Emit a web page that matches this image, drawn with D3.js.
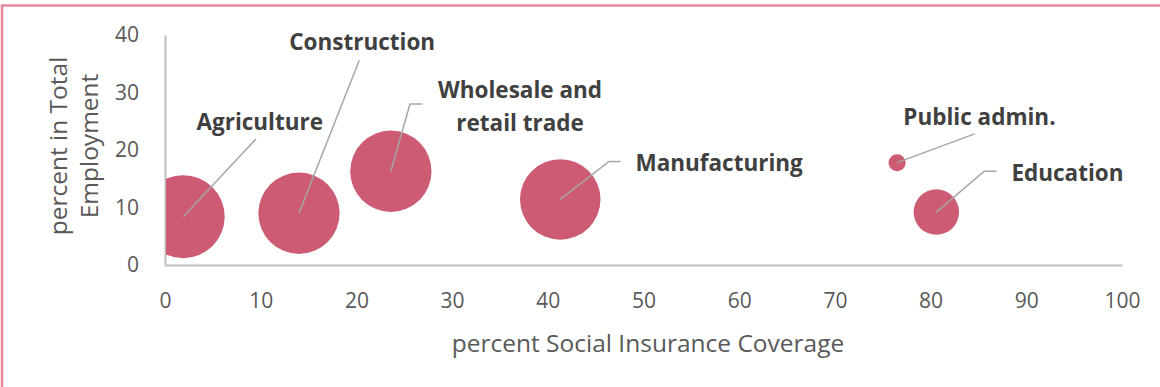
<!DOCTYPE html>
<html>
<head>
<meta charset="utf-8">
<script src="https://cdn.jsdelivr.net/npm/d3@7"></script>
<style>
  body { margin: 0; background: #fff; }
  svg { display: block; font-family: "Open Sans", "Noto Sans", sans-serif; }
</style>
</head>
<body>
<svg id="chart" width="1160" height="387"></svg>
<script>
// sector data
const sectors = ["Agriculture", "Construction", "Wholesale and retail trade", "Manufacturing", "Public admin.", "Education"];
const coverage = [1.9, 14.0, 23.6, 41.3, 76.5, 80.6];     // x, percent social insurance coverage
const employment = [8.4, 9.0, 16.3, 11.4, 17.8, 9.2];     // y, percent in total employment
const bubbleSize = [100, 96, 96, 94, 4.2, 30];            // relative bubble area
const xTicks = [0, 10, 20, 30, 40, 50, 60, 70, 80, 90, 100];
const yTicks = [0, 10, 20, 30, 40];

// label placement: label centre (data units) and where the leader line ends
const labelPos = [
  { lx: 9.9, ly: 24.9, lines: ["Agriculture"], ex: 9.5, ey: 21.9 },
  { lx: 20.6, ly: 38.8, lines: ["Construction"], ex: 20.3, ey: 35.6 },
  { lx: 37.1, ly: 27.6, lines: ["Wholesale and", "retail trade"], ex: 25.6, ey: 28.0, hx: 26.9 },
  { lx: 57.9, ly: 17.7, lines: ["Manufacturing"], ex: 46.4, ey: 18.0, hx: 47.6 },
  { lx: 85.1, ly: 25.8, lines: ["Public admin."], ex: 84.6, ey: 22.8 },
  { lx: 94.3, ly: 16.0, lines: ["Education"], ex: 85.6, ey: 16.3, hx: 86.9 }
];

const svg = d3.select("#chart");
const margin = { left: 165, right: 38, top: 35, bottom: 122 };
const W = 1160, H = 387;

const x = d3.scaleLinear().domain([0, 100]).range([margin.left, W - margin.right]);
const y = d3.scaleLinear().domain([0, 40]).range([H - margin.bottom, margin.top]);
const r = d3.scaleSqrt().domain([0, 100]).range([0, 41.5]);

const pink = "#cc5b73";
const textCol = "#595959";

// outer frame
svg.append("rect")
  .attr("x", 2).attr("y", 5.5)
  .attr("width", W + 10).attr("height", H + 10)
  .attr("fill", "none")
  .attr("stroke", "#e8869c")
  .attr("stroke-width", 2.5);

// axes
const xAxis = svg.append("g")
  .attr("transform", `translate(0,${y(0)})`)
  .call(d3.axisBottom(x).tickValues(xTicks).tickSize(0).tickPadding(28));
const yAxis = svg.append("g")
  .attr("transform", `translate(${x(0)},0)`)
  .call(d3.axisLeft(y).tickValues(yTicks).tickSize(0).tickPadding(26));

[xAxis, yAxis].forEach(g => {
  g.select(".domain").attr("stroke", "#bfbfbf").attr("stroke-width", 2);
  g.selectAll("text")
    .attr("fill", textCol)
    .style("font-size", "21px")
    .style("font-family", "'Open Sans', sans-serif");
});

// axis titles
svg.append("text")
  .attr("x", 648).attr("y", 352)
  .attr("text-anchor", "middle")
  .attr("fill", textCol)
  .style("font-size", "24.5px")
  .text("percent Social Insurance Coverage");

const yTitle = svg.append("text")
  .attr("transform", `translate(67,${y(20) - 4}) rotate(-90)`)
  .attr("text-anchor", "middle")
  .attr("fill", textCol)
  .style("font-size", "24.5px");
yTitle.append("tspan").attr("x", 0).attr("dy", 0).text("percent in Total");
yTitle.append("tspan").attr("x", 0).attr("dy", 31).text("Employment");

// clip bubbles to the plot area (Agriculture sits on the y axis)
svg.append("clipPath").attr("id", "plot")
  .append("rect")
  .attr("x", x(0) + 1).attr("y", 0)
  .attr("width", W).attr("height", H);

const data = sectors.map((s, i) => ({
  name: s, cx: coverage[i], cy: employment[i], size: bubbleSize[i], lab: labelPos[i]
}));

svg.append("g").attr("clip-path", "url(#plot)")
  .selectAll("circle")
  .data(data)
  .join("circle")
  .attr("cx", d => x(d.cx))
  .attr("cy", d => y(d.cy))
  .attr("r", d => r(d.size))
  .attr("fill", pink);

// leader lines
svg.append("g")
  .selectAll("polyline")
  .data(data)
  .join("polyline")
  .attr("points", d => {
    const pts = [[x(d.cx), y(d.cy)], [x(d.lab.ex), y(d.lab.ey)]];
    if (d.lab.hx !== undefined) pts.push([x(d.lab.hx), y(d.lab.ey)]);
    return pts.map(p => p.join(",")).join(" ");
  })
  .attr("fill", "none")
  .attr("stroke", "#a6a6a6")
  .attr("stroke-width", 1.5);

// data labels
const labels = svg.append("g")
  .selectAll("text")
  .data(data)
  .join("text")
  .attr("text-anchor", "middle")
  .attr("fill", "#404040")
  .style("font-size", "22.5px")
  .style("font-weight", "bold")
  .attr("transform", d => `translate(${x(d.lab.lx)},${y(d.lab.ly)})`);

labels.each(function(d) {
  const t = d3.select(this);
  const n = d.lab.lines.length;
  d.lab.lines.forEach((line, k) => {
    t.append("tspan")
      .attr("x", 0)
      .attr("y", (k - (n - 1) / 2) * 33)
      .attr("dy", "0.35em")
      .text(line);
  });
});
</script>
</body>
</html>
